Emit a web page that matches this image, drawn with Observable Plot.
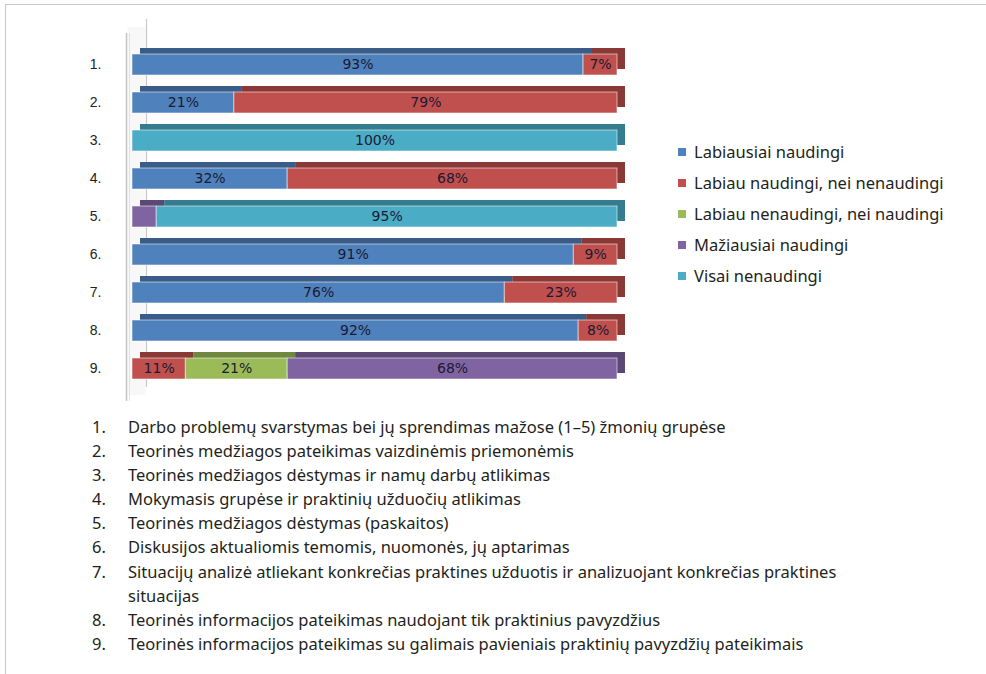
<!DOCTYPE html>
<html>
<head>
<meta charset="utf-8">
<script src="https://cdn.jsdelivr.net/npm/d3@7"></script>
<script src="https://cdn.jsdelivr.net/npm/@observablehq/plot@0.6"></script>
<style>
  html, body { margin: 0; padding: 0; background: #fff; width: 986px; height: 674px; overflow: hidden; }
  #frame { position: absolute; left: 5px; top: 4px; width: 990px; height: 700px; border-top: 1px solid #c9c9c9; border-left: 1px solid #c9c9c9; }
  #chart { position: absolute; left: 0; top: 0; }
  #legend { position: absolute; left: 678px; top: 140px; font-family: "Noto Sans", sans-serif; font-size: 16.5px; color: #231f20; }
  .li { height: 31px; line-height: 24px; white-space: nowrap; }
  .sw { display: inline-block; width: 8px; height: 8px; margin-right: 8px; vertical-align: 2px; }
  #list { position: absolute; left: 0; top: 415px; font-family: "Noto Sans", sans-serif; font-size: 16.5px; color: #231f20; }
  .row { position: relative; line-height: 24.1px; white-space: nowrap; }
  .num { position: absolute; left: 92px; }
  .txt { margin-left: 128px; }
</style>
</head>
<body>
<div id="frame"></div>
<div id="chart"></div>
<div id="legend"></div>
<div id="list"></div>
<script>
const rows = [1, 2, 3, 4, 5, 6, 7, 8, 9];
const series = [
  "Labiausiai naudingi",
  "Labiau naudingi, nei nenaudingi",
  "Labiau nenaudingi, nei naudingi",
  "Mažiausiai naudingi",
  "Visai nenaudingi"
];
const labiausiaiNaudingi = [93, 21, 0, 32, 0, 91, 76, 92, 0];
const labiauNaudingi     = [7, 79, 0, 68, 0, 9, 23, 8, 11];
const labiauNenaudingi   = [0, 0, 0, 0, 0, 0, 0, 0, 21];
const maziausiaiNaudingi = [0, 0, 0, 0, 5, 0, 0, 0, 68];
const visaiNenaudingi    = [0, 0, 100, 0, 95, 0, 0, 0, 0];
const colors = ["#4f81bd", "#c0504d", "#9bbb59", "#8064a2", "#4bacc6"];
const descriptions = [
  "Darbo problemų svarstymas bei jų sprendimas mažose (1–5) žmonių grupėse",
  "Teorinės medžiagos pateikimas vaizdinėmis priemonėmis",
  "Teorinės medžiagos dėstymas ir namų darbų atlikimas",
  "Mokymasis grupėse ir praktinių užduočių atlikimas",
  "Teorinės medžiagos dėstymas (paskaitos)",
  "Diskusijos aktualiomis temomis, nuomonės, jų aptarimas",
  "Situacijų analizė atliekant konkrečias praktines užduotis ir analizuojant konkrečias praktines\nsituacijas",
  "Teorinės informacijos pateikimas naudojant tik praktinius pavyzdžius",
  "Teorinės informacijos pateikimas su galimais pavieniais praktinių pavyzdžių pateikimais"
];

const valuesBySeries = [labiausiaiNaudingi, labiauNaudingi, labiauNenaudingi, maziausiaiNaudingi, visaiNenaudingi];
const data = rows.flatMap((r, i) => series.map((s, j) => ({row: r, series: s, value: valuesBySeries[j][i]})))
  .filter(d => d.value > 0);

const stack = (extra) => Plot.stackX({x: "value", y: "row", z: "series", offset: "normalize", ...extra});

const chart = Plot.plot({
  width: 986,
  height: 410,
  marginLeft: 132,
  marginRight: 369,
  marginTop: 33,
  marginBottom: 9,
  style: {fontFamily: "Liberation Sans, sans-serif", fontSize: "14px", color: "#222", background: "transparent"},
  x: {domain: [0, 1], axis: null},
  y: {domain: rows, padding: 0.44, axis: null},
  color: {domain: series, range: colors},
  marks: [
    Plot.axisY({tickSize: 0, tickPadding: 31, tickFormat: d => d + ".", label: null, fontSize: 14}),
    // left 3D wall
    Plot.ruleX([0], {stroke: "#f8f8f8", strokeWidth: 18, dx: 4, dy: -6}),
    Plot.ruleX([0], {stroke: "#c4c4c4", strokeWidth: 1.5, dx: -6}),
    Plot.ruleX([0], {stroke: "#e2e2e2", strokeWidth: 1, dx: -3}),
    Plot.ruleX([0], {stroke: "#c8c8c8", strokeWidth: 1.2, dx: 14, dy: -14}),
    // 3D depth faces
    Plot.barX(data, stack({fill: "series", dx: 8, dy: -6})),
    Plot.barX(data, stack({fill: "#000", fillOpacity: 0.28, dx: 8, dy: -6})),
    // front faces
    Plot.barX(data, stack({fill: "series", stroke: "#ffffff", strokeOpacity: 0.55, strokeWidth: 1})),
    Plot.text(data, stack({
      text: d => d.value >= 7 ? d.value + "%" : "",
      fill: "#1a1a33",
      fontFamily: "DejaVu Sans, sans-serif",
      fontSize: 14
    }))
  ]
});
document.getElementById("chart").appendChild(chart);

const legend = document.getElementById("legend");
series.forEach((s, i) => {
  const div = document.createElement("div");
  div.className = "li";
  div.innerHTML = `<span class="sw" style="background:${colors[i]}"></span>`;
  div.appendChild(document.createTextNode(s));
  legend.appendChild(div);
});

const list = document.getElementById("list");
descriptions.forEach((t, i) => {
  const div = document.createElement("div");
  div.className = "row";
  const n = document.createElement("span");
  n.className = "num";
  n.textContent = (i + 1) + ".";
  div.appendChild(n);
  t.split("\n").forEach((line, k) => {
    const d = document.createElement("div");
    d.className = "txt";
    d.textContent = line;
    div.appendChild(d);
  });
  list.appendChild(div);
});
</script>
</body>
</html>
